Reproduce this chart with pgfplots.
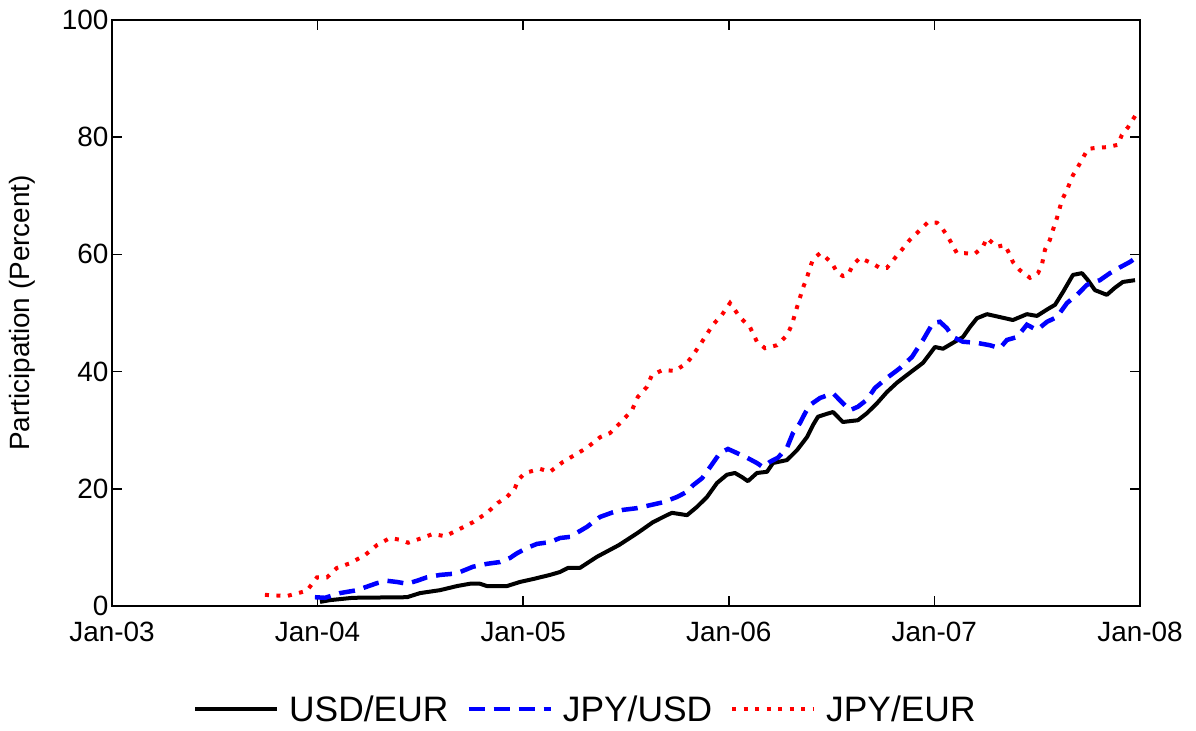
\documentclass[border=0pt]{standalone}
\usepackage{fontspec}
\setmainfont{Liberation Sans}
\usepackage{pgfplots}
\pgfplotsset{compat=1.18}
\begin{document}
\begin{tikzpicture}
\useasboundingbox (-112bp,-125bp) rectangle (1084bp,606bp);
\begin{axis}[
  at={(0,0)}, anchor=south west,
  scale only axis, width=1028bp, height=586bp,
  xmin=0, xmax=5, ymin=0, ymax=100,
  xtick={0,1,2,3,4,5},
  xticklabels={Jan-03,Jan-04,Jan-05,Jan-06,Jan-07,Jan-08},
  ytick={0,20,40,60,80,100},
  tick align=inside,
  major tick length=10bp,
  every tick/.style={black, line width=1.6bp},
  axis line style={line width=2.4bp},
  /pgf/number format/assume math mode=true,
  tick label style={font=\fontsize{28}{32}\selectfont},
  xticklabel style={inner ysep=0pt, yshift=-16bp},
  yticklabel style={inner ysep=0pt},
  ylabel={Participation (Percent)},
  ylabel style={font=\fontsize{28}{32}\selectfont, at={(axis description cs:-0.0875,0.5)}, anchor=center},
  legend columns=3,
  legend style={draw=none, fill=none, at={(axis description cs:0.0788,-0.176)}, anchor=west,
    inner sep=0pt, font=\fontsize{35.5}{40}\selectfont,
    /tikz/every odd column/.append style={column sep=8bp},
    /tikz/every even column/.append style={column sep=16bp}},
  legend image code/.code={\draw[#1] (0bp,0bp) -- (82bp,0bp);},
]
\addplot[black, line width=4bp, line join=round] coordinates {
(1.012,0.7) (1.060,1.0) (1.172,1.4) (1.435,1.5) (1.498,2.2) (1.595,2.7) (1.678,3.4) (1.741,3.8) (1.790,3.8) (1.824,3.4) (1.921,3.4) (1.984,4.1) (2.048,4.6) (2.130,5.3) (2.179,5.8) (2.218,6.5) (2.276,6.5) (2.359,8.4) (2.466,10.4) (2.558,12.5) (2.631,14.3) (2.699,15.5) (2.724,15.9) (2.797,15.5) (2.845,16.9) (2.894,18.6) (2.943,21.0) (2.991,22.4) (3.030,22.7) (3.064,22.0) (3.093,21.3) (3.137,22.7) (3.186,22.9) (3.215,24.4) (3.283,24.9) (3.332,26.6) (3.380,28.8) (3.410,30.9) (3.434,32.3) (3.478,32.8) (3.507,33.1) (3.555,31.4) (3.628,31.7) (3.672,32.9) (3.721,34.6) (3.769,36.5) (3.818,38.1) (3.881,39.8) (3.945,41.5) (4.003,44.2) (4.042,43.9) (4.100,45.1) (4.139,45.9) (4.173,47.6) (4.207,49.1) (4.256,49.8) (4.319,49.3) (4.382,48.8) (4.450,49.8) (4.499,49.5) (4.553,50.7) (4.587,51.4) (4.626,53.6) (4.674,56.5) (4.718,56.8) (4.747,55.6) (4.781,53.9) (4.839,53.1) (4.878,54.3) (4.917,55.3) (4.976,55.6)
};
\addlegendentry{USD/EUR}
\addplot[blue, line width=4.5bp, dash pattern=on 16bp off 9bp] coordinates {
(0.987,1.5) (1.036,1.4) (1.109,2.2) (1.192,2.7) (1.240,3.3) (1.289,3.9) (1.338,4.3) (1.386,4.1) (1.435,3.8) (1.483,4.3) (1.532,4.9) (1.595,5.3) (1.659,5.5) (1.693,5.8) (1.756,6.7) (1.824,7.2) (1.887,7.5) (1.936,8.2) (1.970,9.0) (2.018,9.9) (2.067,10.6) (2.130,10.9) (2.179,11.6) (2.228,11.8) (2.310,13.5) (2.374,15.2) (2.437,16.0) (2.485,16.4) (2.554,16.7) (2.617,17.2) (2.680,17.7) (2.748,18.6) (2.797,19.5) (2.826,20.6) (2.870,21.8) (2.909,23.7) (2.957,26.1) (2.996,26.8) (3.040,26.1) (3.089,25.3) (3.137,24.4) (3.166,23.7) (3.200,24.6) (3.239,25.3) (3.283,27.0) (3.312,29.5) (3.346,31.2) (3.371,32.9) (3.395,34.3) (3.444,35.5) (3.507,36.3) (3.555,34.6) (3.589,33.4) (3.628,34.0) (3.672,35.2) (3.711,37.2) (3.769,38.9) (3.833,40.6) (3.891,42.5) (3.945,45.4) (3.993,48.3) (4.027,48.5) (4.061,47.4) (4.090,45.9) (4.139,45.1) (4.207,44.9) (4.270,44.5) (4.319,44.0) (4.353,45.4) (4.402,45.9) (4.450,48.0) (4.499,47.1) (4.548,48.5) (4.596,49.3) (4.645,51.7) (4.694,53.1) (4.742,54.8) (4.805,55.6) (4.854,56.8) (4.903,57.8) (4.951,58.7) (5.000,59.9)
};
\addlegendentry{JPY/USD}
\addplot[red, line width=4bp, dash pattern=on 4bp off 7.5bp] coordinates {
(0.744,1.9) (0.851,1.7) (0.948,2.6) (0.997,4.9) (1.046,4.9) (1.094,6.5) (1.158,7.3) (1.231,8.7) (1.289,10.4) (1.352,11.6) (1.401,11.3) (1.440,10.8) (1.508,11.6) (1.561,12.3) (1.620,11.9) (1.683,13.0) (1.756,14.3) (1.824,15.9) (1.877,17.6) (1.921,18.6) (1.960,20.1) (1.975,21.5) (2.009,22.7) (2.082,23.4) (2.130,22.9) (2.194,24.6) (2.228,25.3) (2.310,27.0) (2.374,28.8) (2.422,29.5) (2.471,31.2) (2.529,33.4) (2.558,35.7) (2.602,37.4) (2.626,39.4) (2.680,40.3) (2.738,40.1) (2.797,41.5) (2.826,42.8) (2.870,45.1) (2.923,48.0) (2.967,49.7) (3.006,51.7) (3.054,49.3) (3.103,47.6) (3.137,45.1) (3.176,44.0) (3.234,44.5) (3.283,46.2) (3.307,48.0) (3.332,51.0) (3.361,54.3) (3.380,56.0) (3.395,57.7) (3.410,59.2) (3.444,60.2) (3.468,59.6) (3.502,58.5) (3.526,57.0) (3.555,56.3) (3.580,56.5) (3.604,58.2) (3.638,59.4) (3.696,58.5) (3.735,57.7) (3.769,57.7) (3.799,59.0) (3.833,60.4) (3.881,62.5) (3.920,63.8) (3.969,65.5) (4.013,65.4) (4.037,64.5) (4.066,63.0) (4.110,60.2) (4.149,60.2) (4.197,60.1) (4.236,61.3) (4.256,62.8) (4.304,61.3) (4.343,61.6) (4.368,59.9) (4.382,58.7) (4.416,57.3) (4.465,56.0) (4.504,56.8) (4.523,58.2) (4.538,60.8) (4.562,62.5) (4.577,64.2) (4.596,66.2) (4.621,69.3) (4.645,71.0) (4.674,73.5) (4.698,74.9) (4.723,76.5) (4.747,78.0) (4.791,78.2) (4.839,78.3) (4.893,78.7) (4.912,80.4) (4.942,81.7) (4.985,84.1)
};
\addlegendentry{JPY/EUR}
\end{axis}
\end{tikzpicture}
\end{document}
